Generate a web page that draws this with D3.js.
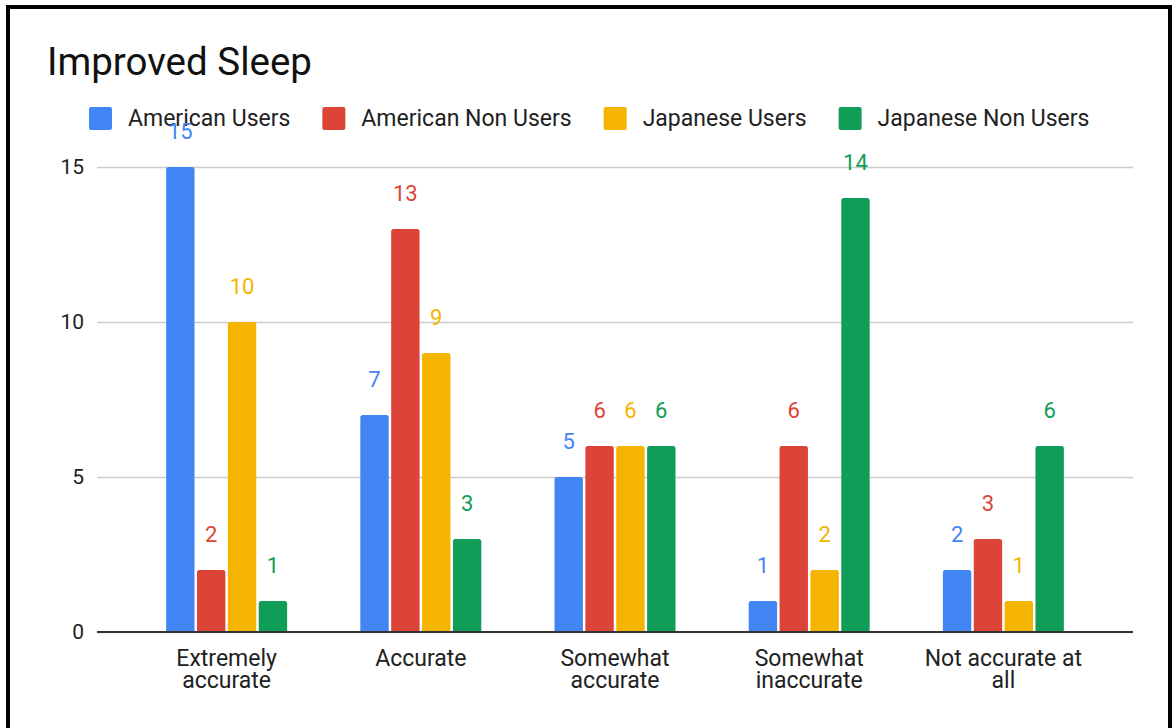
<!DOCTYPE html>
<html>
<head>
<meta charset="utf-8">
<script src="https://cdn.jsdelivr.net/npm/d3@7"></script>
<style>
  html, body { margin: 0; padding: 0; background: #fff; }
  svg { display: block; font-family: Roboto, "Noto Sans", sans-serif; }
</style>
</head>
<body>
<svg id="chart" width="1172" height="728"></svg>
<script>
// Survey answers: "Improved Sleep" accuracy ratings per respondent group
const categories = ["Extremely accurate", "Accurate", "Somewhat accurate", "Somewhat inaccurate", "Not accurate at all"];
const seriesNames = ["American Users", "American Non Users", "Japanese Users", "Japanese Non Users"];
const americanUsers = [15, 7, 5, 1, 2];
const americanNonUsers = [2, 13, 6, 6, 3];
const japaneseUsers = [10, 9, 6, 2, 1];
const japaneseNonUsers = [1, 3, 6, 14, 6];
const yTicks = [0, 5, 10, 15];
const colors = ["#4285F4", "#DB4437", "#F4B400", "#0F9D58"];

const seriesValues = [americanUsers, americanNonUsers, japaneseUsers, japaneseNonUsers];

const svg = d3.select("#chart");
const W = 1172, H = 728;

// frame around the whole chart
svg.append("rect")
  .attr("x", 8).attr("y", 7)
  .attr("width", W - 10).attr("height", H - 5)
  .attr("fill", "none").attr("stroke", "#000").attr("stroke-width", 4);

// title
svg.append("text")
  .attr("x", 47).attr("y", 75)
  .attr("font-size", 38.5).attr("fill", "#111")
  .text("Improved Sleep");

// legend: swatch, label, then the next entry follows the label
const legend = svg.append("g");
let lx = 89;
seriesNames.forEach((name, i) => {
  legend.append("rect")
    .attr("x", lx).attr("y", 107)
    .attr("width", 23).attr("height", 23).attr("rx", 2)
    .attr("fill", colors[i]);
  const t = legend.append("text")
    .attr("x", lx + 39).attr("y", 126)
    .attr("font-size", 23).attr("fill", "#222")
    .text(name);
  lx = lx + 39 + t.node().getComputedTextLength() + 32;
});

// scales
const plotLeft = 97, plotRight = 1133;
const x0 = d3.scaleBand().domain(categories).range([plotLeft, plotRight])
  .paddingInner(0.377).paddingOuter(0.356);
const x1 = d3.scaleBand().domain(seriesNames).range([0, x0.bandwidth()]).paddingInner(0.08);
const y = d3.scaleLinear().domain([0, 15]).range([632, 167]);

// gridlines and y tick labels
const yAxis = d3.axisLeft(y).tickValues(yTicks).tickSize(-(plotRight - plotLeft)).tickPadding(13).tickFormat(d3.format("d"));
const yg = svg.append("g").attr("transform", `translate(${plotLeft},0)`).call(yAxis);
yg.select(".domain").remove();
yg.selectAll(".tick line").attr("stroke", "#cccccc").attr("stroke-width", 1.5);
yg.selectAll(".tick text").attr("font-size", 21).attr("fill", "#222").attr("font-family", "Roboto, sans-serif");

// bars with rounded top corners
function barPath(x, yTop, w, yBase, r) {
  r = Math.min(r, (yBase - yTop));
  return `M${x},${yBase}V${yTop + r}Q${x},${yTop} ${x + r},${yTop}H${x + w - r}Q${x + w},${yTop} ${x + w},${yTop + r}V${yBase}Z`;
}

const rows = [];
categories.forEach((c, ci) => {
  seriesNames.forEach((s, si) => {
    rows.push({ category: c, series: s, si, value: seriesValues[si][ci] });
  });
});

svg.append("g").selectAll("path").data(rows).join("path")
  .attr("d", d => barPath(x0(d.category) + x1(d.series), y(d.value), x1.bandwidth(), y(0), 2.5))
  .attr("fill", d => colors[d.si]);

// value labels above bars
svg.append("g").selectAll("text").data(rows).join("text")
  .attr("x", d => x0(d.category) + x1(d.series) + x1.bandwidth() / 2)
  .attr("y", d => y(d.value) - 28)
  .attr("text-anchor", "middle")
  .attr("font-size", 22)
  .attr("fill", d => colors[d.si])
  .text(d => d.value);

// baseline
svg.append("line")
  .attr("x1", plotLeft).attr("x2", plotRight)
  .attr("y1", y(0)).attr("y2", y(0))
  .attr("stroke", "#333").attr("stroke-width", 2);

// category labels, wrapped to fit under each group
const xAxis = d3.axisBottom(x0).tickSize(0).tickPadding(0);
const xg = svg.append("g").attr("transform", `translate(0,${y(0)})`).call(xAxis);
xg.select(".domain").remove();
xg.selectAll(".tick text")
  .attr("font-size", 23).attr("fill", "#222").attr("font-family", "Roboto, sans-serif")
  .attr("y", 0).attr("dy", null)
  .each(function (d) {
    const t = d3.select(this);
    const words = d.split(" ");
    t.text(null);
    const lines = [];
    let line = [];
    const probe = t.append("tspan");
    words.forEach(w => {
      line.push(w);
      probe.text(line.join(" "));
      if (probe.node().getComputedTextLength() > 168 && line.length > 1) {
        line.pop();
        lines.push(line.join(" "));
        line = [w];
      }
    });
    lines.push(line.join(" "));
    probe.remove();
    lines.forEach((l, i) => {
      t.append("tspan").attr("x", 0).attr("y", 34 + i * 21.5).text(l);
    });
  });
</script>
</body>
</html>
